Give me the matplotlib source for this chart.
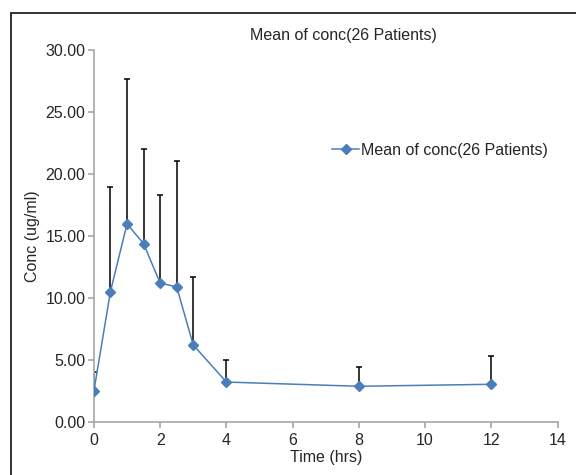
import matplotlib.pyplot as plt
from matplotlib.patches import Rectangle

plt.rcParams['font.family'] = ['Liberation Sans', 'DejaVu Sans']

# sampling times (hrs) and mean concentration (ug/ml)
time_hrs = [0, 0.5, 1, 1.5, 2, 2.5, 3, 4, 8, 12]
mean_conc = [2.52, 10.53, 15.98, 14.39, 11.22, 10.90, 6.23, 3.24, 2.90, 3.06]
# upper end of the error bar (mean + SD)
upper_conc = [4.08, 18.93, 27.69, 22.05, 18.32, 21.06, 11.74, 5.02, 4.46, 5.34]

sd = [u - m for u, m in zip(upper_conc, mean_conc)]
blue = '#4a7ebb'
gray = '#a6a6a6'
txt = '#262626'

fig = plt.figure(figsize=(5.76, 4.75), dpi=100)
ax = fig.add_axes([0.163, 0.111, 0.805, 0.784])

# upper-only error bars
ax.errorbar(time_hrs, mean_conc, yerr=[[0] * len(sd), sd], fmt='none',
            ecolor='black', elinewidth=1.1, capsize=2.5, capthick=1.1, zorder=2)
ax.plot(time_hrs, mean_conc, color=blue, lw=1.1, marker='D', ms=5.5,
        mfc=blue, mec=blue, label='Mean of conc(26 Patients)', zorder=3)

ax.set_xlim(0, 14)
ax.set_ylim(0, 30)
ax.set_xticks(range(0, 15, 2))
ax.set_yticks([0, 5, 10, 15, 20, 25, 30])
ax.set_yticklabels(['%.2f' % v for v in [0, 5, 10, 15, 20, 25, 30]])

for s in ['top', 'right']:
    ax.spines[s].set_visible(False)
for s in ['left', 'bottom']:
    ax.spines[s].set_color(gray)
    ax.spines[s].set_linewidth(1.2)
ax.tick_params(colors=gray, labelcolor=txt, labelsize=11.5, length=4, width=1.2)
ax.tick_params(axis='x', pad=4)
ax.tick_params(axis='y', pad=2)

ax.set_xlabel('Time (hrs)', fontsize=11.5, color=txt, labelpad=1)
ax.set_ylabel('Conc (ug/ml)', fontsize=11.5, color=txt, labelpad=4)

fig.text(0.596, 0.925, 'Mean of conc(26 Patients)', ha='center', va='center',
         fontsize=11.5, color=txt)

leg = ax.legend(loc='center left', bbox_to_anchor=(0.5, 0.73), frameon=False,
                fontsize=11.5, handlelength=1.7, handletextpad=0.1, borderaxespad=0)
for t in leg.get_texts():
    t.set_color(txt)

# outer frame (only top and left edges show)
fig.patches.append(Rectangle((10.5 / 576, -0.05), 1.2, 1 - 12.5 / 475 + 0.05,
                             transform=fig.transFigure, fill=False,
                             edgecolor='#222222', linewidth=1.3))

fig.savefig('out.png', dpi=100)
